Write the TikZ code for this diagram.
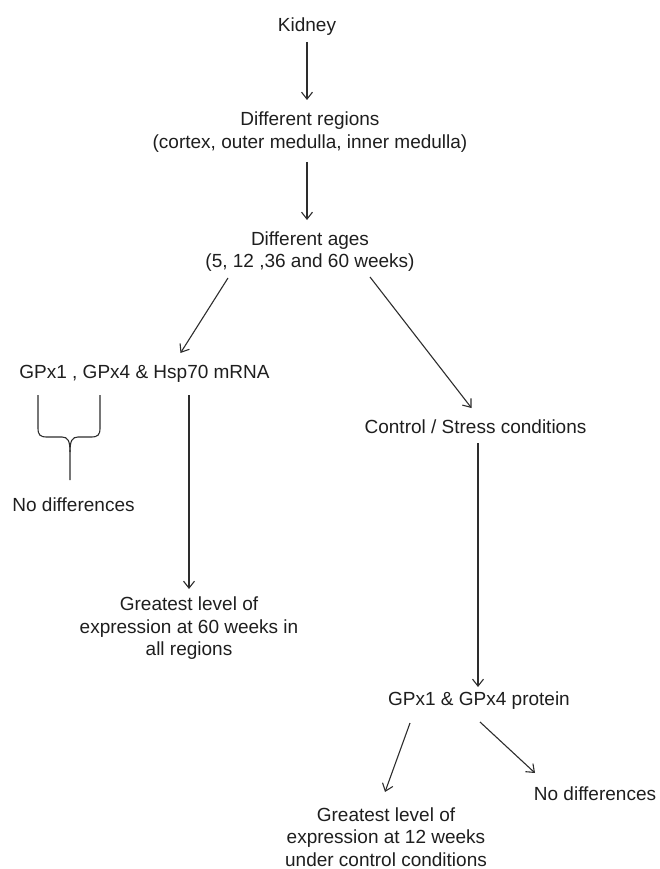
\documentclass[tikz,border=0pt]{standalone}
\usepackage{fontspec}
\setmainfont{Liberation Sans}
\usetikzlibrary{arrows.meta,calc}
\definecolor{txt}{RGB}{30,30,30}
\definecolor{ln}{RGB}{45,45,45}
\newcommand{\mlines}[1]{\begin{tabular}[t]{@{}c@{}}#1\end{tabular}}
\tikzset{
  lbl/.style={inner sep=0pt, anchor=base, text=txt, font=\fontsize{19}{22.5}\selectfont},
  arr/.style={draw=ln, line width=1.1pt, -{Straight Barb[length=7pt,width=11pt]}},
  brace/.style={draw=ln, line width=1.1pt}
}
\begin{document}
\begin{tikzpicture}[x=1pt,y=-1pt]
\useasboundingbox (0,0) rectangle (659,869);
\node[lbl] (kidney) at (307,31.6) {Kidney};
\node[lbl] (regions) at (310,126) {\mlines{Different regions\\(cortex, outer medulla, inner medulla)}};
\node[lbl] (ages) at (310,245) {\mlines{Different ages\\(5, 12 ,36 and 60 weeks)}};
\node[lbl] (mrna) at (144.5,378.6) {GPx1 , GPx4 \& Hsp70 mRNA};
\node[lbl] (ctrl) at (475.5,433.6) {Control / Stress conditions};
\node[lbl] (nodiffA) at (73.5,511.6) {No differences};
\node[lbl] (great60) at (189,610.6) {\mlines{Greatest level of\\expression at 60 weeks in\\all regions}};
\node[lbl] (protein) at (479,705.6) {GPx1 \& GPx4 protein};
\node[lbl] (nodiffB) at (595,800.6) {No differences};
\node[lbl] (great12) at (386,821) {\mlines{Greatest level of\\expression at 12 weeks\\under control conditions\\[-6.5pt]}};

\draw[arr] ($(kidney.base)+(0,10.4)$) -- ($(regions.base)+(-3,-26)$);
\draw[arr] ($(regions.base)+(-3,36)$) -- ($(ages.base)+(-3,-25)$);
\draw[arr] ($(ages.base)+(-82,33)$) -- ($(mrna.base)+(36,-25.6)$);
\draw[arr] ($(ages.base)+(60,32)$) -- ($(ctrl.base)+(-4,-25.6)$);
\draw[arr] ($(mrna.base)+(44.5,16.4)$) -- ($(great60.base)+(0,-21.6)$);
\draw[arr] ($(ctrl.base)+(2.5,9.4)$) -- ($(protein.base)+(-1,-18.6)$);
\draw[arr] ($(protein.base)+(-69,17.4)$) -- ($(great12.base)+(-1,-29)$);
\draw[arr] ($(protein.base)+(1,16.4)$) -- ($(nodiffB.base)+(-60,-27.6)$);

% brace under mRNA label
\draw[brace] (38,395) -- (38,428) .. controls (38,435) and (40,437) .. (47,437)
  -- (62,437) .. controls (68,437) and (70,441) .. (70,452) -- (70,480);
\draw[brace] (100,395) -- (100,428) .. controls (100,435) and (98,437) .. (91,437)
  -- (78,437) .. controls (72,437) and (70,441) .. (70,452);
\end{tikzpicture}
\end{document}
